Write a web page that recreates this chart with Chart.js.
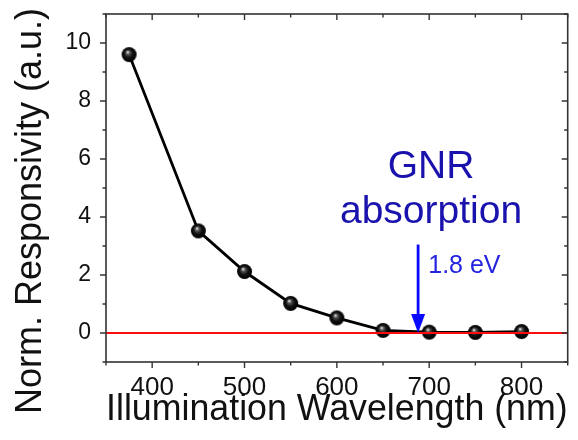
<!DOCTYPE html>
<html>
<head>
<meta charset="utf-8">
<script src="https://cdn.jsdelivr.net/npm/chart.js@4.4.1/dist/chart.umd.min.js"></script>
<style>
  html, body { margin: 0; padding: 0; background: #fff; }
  #wrap { width: 578px; height: 440px; }
</style>
</head>
<body>
<div id="wrap"><canvas id="chart" width="578" height="440"></canvas></div>
<script>
// Norm. responsivity vs illumination wavelength

// data
const wavelengths = [375, 450, 500, 550, 600, 650, 700, 750, 800];
const responsivity = [9.6, 3.52, 2.12, 1.02, 0.52, 0.09, 0.03, 0.02, 0.05];

// axis ranges / ticks
const xRange = [350, 850];
const yRange = [-1, 11];
const xTickLabels = [400, 500, 600, 700, 800];
const yTickLabels = [0, 2, 4, 6, 8, 10];

// annotation
const gapWavelength = 688;   // 1.8 eV
const arrowTop = 3.05;
const noteLines = ['GNR', 'absorption'];
const yTitle = 'Norm. Responsivity (a.u.)';

const FONT = '"Liberation Sans", Arial, Helvetica, sans-serif';

// little shaded ball for the markers
function makeSphere(r) {
    const c = document.createElement('canvas');
    c.width = c.height = r * 2 + 2;
    const g = c.getContext('2d');
    const cx = r + 1, cy = r + 1;
    const grad = g.createRadialGradient(cx - r * 0.2, cy - r * 0.35, r * 0.05, cx, cy, r);
    grad.addColorStop(0, '#e0e0e0');
    grad.addColorStop(0.22, '#555');
    grad.addColorStop(0.55, '#111');
    grad.addColorStop(1, '#000');
    g.fillStyle = grad;
    g.beginPath();
    g.arc(cx, cy, r, 0, Math.PI * 2);
    g.fill();
    return c;
}

// frame + Origin-style ticks (out on left/bottom, in on top/right)
const framePlugin = {
    id: 'frame',
    afterDraw(chart) {
        const { ctx, chartArea: a, scales: { x, y } } = chart;
        ctx.save();
        ctx.strokeStyle = '#333';
        ctx.lineWidth = 1.6;
        ctx.strokeRect(a.left, a.top, a.right - a.left, a.bottom - a.top);
        ctx.lineWidth = 1.4;
        ctx.beginPath();
        for (let v = xRange[0]; v <= xRange[1]; v += 50) {
            const px = x.getPixelForValue(v);
            const len = v % 100 === 0 ? 6 : 3.5;
            ctx.moveTo(px, a.bottom); ctx.lineTo(px, a.bottom + len);
            ctx.moveTo(px, a.top); ctx.lineTo(px, a.top + len);
        }
        for (let v = yRange[0]; v <= yRange[1]; v += 1) {
            const py = y.getPixelForValue(v);
            const len = v % 2 === 0 ? 6 : 3.5;
            ctx.moveTo(a.left, py); ctx.lineTo(a.left - len, py);
            ctx.moveTo(a.right, py); ctx.lineTo(a.right - len, py);
        }
        ctx.stroke();

        // y axis title (sits a bit below the centre of the axis in the original)
        ctx.fillStyle = '#111';
        ctx.font = '36px ' + FONT;
        ctx.textAlign = 'center';
        ctx.textBaseline = 'middle';
        ctx.translate(31, 211);
        ctx.rotate(-Math.PI / 2);
        ctx.fillText(yTitle, 0, 0);
        ctx.restore();
    }
};

// blue arrow + text
const notePlugin = {
    id: 'note',
    afterDatasetsDraw(chart) {
        const { ctx, scales: { x, y } } = chart;
        const ax = x.getPixelForValue(gapWavelength);
        const y0 = y.getPixelForValue(arrowTop);
        const y1 = y.getPixelForValue(0);
        ctx.save();
        ctx.strokeStyle = '#0a0aff';
        ctx.fillStyle = '#0a0aff';
        ctx.lineWidth = 2.8;
        ctx.beginPath();
        ctx.moveTo(ax, y0);
        ctx.lineTo(ax, y1 - 16);
        ctx.stroke();
        ctx.beginPath();
        ctx.moveTo(ax - 7, y1 - 19);
        ctx.lineTo(ax + 7, y1 - 19);
        ctx.lineTo(ax, y1);
        ctx.closePath();
        ctx.fill();

        ctx.fillStyle = '#1a12ad';
        ctx.font = '39px ' + FONT;
        ctx.textAlign = 'center';
        ctx.textBaseline = 'alphabetic';
        ctx.fillText(noteLines[0], x.getPixelForValue(702), y.getPixelForValue(5.33));
        ctx.fillText(noteLines[1], x.getPixelForValue(702), y.getPixelForValue(3.81));

        ctx.fillStyle = '#2323e0';
        ctx.font = '25px ' + FONT;
        ctx.textAlign = 'left';
        ctx.fillText('1.8 eV', x.getPixelForValue(699), y.getPixelForValue(2.08));
        ctx.restore();
    }
};

const sphere = makeSphere(7.5);

new Chart(document.getElementById('chart'), {
    type: 'scatter',
    data: {
        datasets: [
            {
                label: 'Responsivity',
                data: wavelengths.map((w, i) => ({ x: w, y: responsivity[i] })),
                showLine: true,
                borderColor: '#000',
                borderWidth: 2.8,
                pointStyle: sphere,
                pointRadius: 7.5,
                pointHoverRadius: 7.5,
                order: 1
            },
            {
                // red zero line sits on top of the markers
                label: 'zero',
                data: [{ x: xRange[0], y: 0 }, { x: xRange[1], y: 0 }],
                showLine: true,
                borderColor: '#ff0d0d',
                borderWidth: 1.8,
                pointRadius: 0,
                order: 0
            }
        ]
    },
    options: {
        responsive: false,
        animation: false,
        events: [],
        layout: { padding: { top: 14, right: 6, left: 0, bottom: 0 } },
        plugins: { legend: { display: false }, tooltip: { enabled: false } },
        scales: {
            x: {
                type: 'linear',
                min: xRange[0],
                max: xRange[1],
                border: { display: false },
                grid: { display: false, drawTicks: false },
                afterFit: s => { s.height = 78; s.paddingLeft = 0; s.paddingRight = 0; },
                ticks: {
                    stepSize: 50,
                    autoSkip: false,
                    maxRotation: 0,
                    padding: 10,
                    color: '#111',
                    font: { family: FONT, size: 26 },
                    callback: v => xTickLabels.includes(v) ? String(v) : ''
                },
                title: {
                    display: true,
                    text: 'Illumination Wavelength (nm)',
                    color: '#111',
                    font: { family: FONT, size: 36 },
                    padding: { top: 0, bottom: 8 }
                }
            },
            y: {
                type: 'linear',
                min: yRange[0],
                max: yRange[1],
                border: { display: false },
                grid: { display: false, drawTicks: false },
                afterFit: s => { s.width = 106; s.paddingTop = 0; s.paddingBottom = 0; },
                ticks: {
                    stepSize: 1,
                    autoSkip: false,
                    padding: 15,
                    color: '#111',
                    font: { family: FONT, size: 23 },
                    callback: v => yTickLabels.includes(v) ? String(v) : ''
                },
                title: { display: false }
            }
        }
    },
    plugins: [framePlugin, notePlugin]
});
</script>
</body>
</html>
